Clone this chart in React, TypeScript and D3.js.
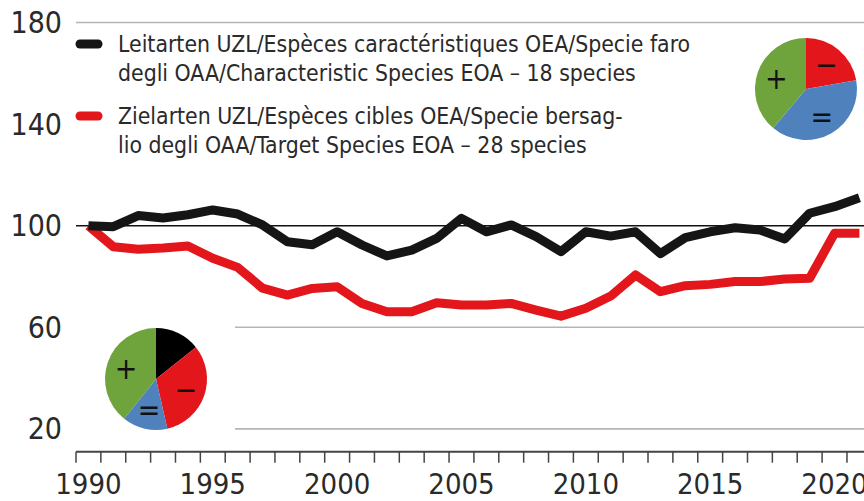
import React from "react";
import * as d3 from "d3";

const years = d3.range(1990, 2022);
const characteristic = [100, 99.6, 104, 103, 104.3, 106.2, 104.6, 100.3, 93.7, 92.5, 97.6, 92.4, 88.1, 90.4, 95, 102.9, 97.6, 100.3, 95.7, 89.8, 97.6, 95.9, 97.6, 89, 95.3, 97.6, 99.2, 98.3, 94.8, 104.9, 107.5, 111];
const target = [100, 91.7, 90.7, 91.2, 92, 87.2, 83.6, 75.4, 72.7, 75.3, 76, 69.4, 66.1, 66.1, 69.7, 68.8, 68.8, 69.4, 66.8, 64.4, 67.5, 72.3, 80.6, 74, 76.4, 76.9, 78, 78, 79, 79.3, 97, 97];
const yTicks = [180, 140, 100, 60, 20];
const xLabelYears = [1990, 1995, 2000, 2005, 2010, 2015, 2020];
const legendLines = [
  ["Leitarten UZL/Espèces caractéristiques OEA/Specie faro", "degli OAA/Characteristic Species EOA – 18 species"],
  ["Zielarten UZL/Espèces cibles OEA/Specie bersag-", "lio degli OAA/Target Species EOA – 28 species"],
];
const pieCharLabels = ["−", "=", "+"];
const pieCharValues = [4, 7, 7];
const pieTargetLabels = ["", "−", "=", "+"];
const pieTargetValues = [4, 9, 4, 11];

const W = 864, H = 501;
const FONT = "'DejaVu Sans Condensed', 'DejaVu Sans', sans-serif";
const BLACK = "#151515";
const RED = "#e3161c";
const GREEN = "#6fa33b";
const BLUE = "#4f81bd";
const TEXT = "#2a2a2a";

function Pie({ cx, cy, r, values, labels, colors }: any) {
  const arcs = d3.pie<number>().sort(null)(values);
  const arc = d3.arc<any>().innerRadius(0).outerRadius(r);
  const labelArc = d3.arc<any>().innerRadius(r * 0.62).outerRadius(r * 0.62);
  return (
    <g transform={`translate(${cx},${cy})`}>
      {arcs.map((a, i) => (
        <path key={i} d={arc(a) as string} fill={colors[i]} />
      ))}
      {arcs.map((a, i) => {
        const [lx, ly] = labelArc.centroid(a);
        return labels[i] ? (
          <text key={"t" + i} x={lx} y={ly} textAnchor="middle" dominantBaseline="central"
            fontFamily={FONT} fontSize={30} fill="#111">{labels[i]}</text>
        ) : null;
      })}
    </g>
  );
}

export default function App() {
  const x = d3.scaleBand<number>().domain(years).range([76, 76 + 32 * 24.87]).padding(0);
  const xc = (yr: number) => (x(yr) as number) + x.bandwidth() / 2;
  const y = d3.scaleLinear().domain([20, 180]).range([428.9, 22.5]);
  const line = d3.line<number>().x((_, i) => xc(years[i])).y((v) => y(v)).curve(d3.curveLinear);
  const axisY = 451.7;
  const ticks = d3.range(0, years.length + 1).map((k) => 76 + k * x.bandwidth());

  return (
    <svg width={W} height={H} style={{ position: "absolute", left: 0, top: 0, background: "#fff" }}>
      <rect x={0} y={0} width={W} height={H} fill="#fff" />
      {yTicks.filter((v) => v !== 100).map((v) => (
        <line key={v} x1={76} x2={W} y1={y(v)} y2={y(v)} stroke="#b5b5b5" strokeWidth={1.6} />
      ))}
      {/* legend background */}
      <rect x={70} y={32} width={W - 70} height={130} fill="#fff" />
      {/* lower-left pie background */}
      <rect x={70} y={300} width={165} height={140} fill="#fff" />
      <line x1={76} x2={W} y1={y(100)} y2={y(100)} stroke="#111" strokeWidth={1.6} />
      {yTicks.map((v) => (
        <text key={v} x={62} y={y(v)} textAnchor="end" dominantBaseline="central"
          fontFamily={FONT} fontSize={30} fill={TEXT}>{v}</text>
      ))}
      {/* x axis */}
      <line x1={76} x2={W} y1={axisY} y2={axisY} stroke="#444" strokeWidth={2} />
      {ticks.map((t, i) => (
        <line key={i} x1={t} x2={t} y1={axisY} y2={axisY + 11} stroke="#444" strokeWidth={1.5} />
      ))}
      {xLabelYears.map((yr) => (
        <text key={yr} x={xc(yr)} y={494} textAnchor="middle" fontFamily={FONT} fontSize={29} fill={TEXT}>{yr}</text>
      ))}
      {/* lines */}
      <path d={line(target) as string} fill="none" stroke={RED} strokeWidth={9} strokeLinejoin="round" />
      <path d={line(characteristic) as string} fill="none" stroke={BLACK} strokeWidth={9} strokeLinejoin="round" />
      {/* legend */}
      {[BLACK, RED].map((c, i) => (
        <g key={i}>
          <line x1={80} x2={98} y1={44 + i * 72} y2={44 + i * 72} stroke={c} strokeWidth={9} strokeLinecap="round" />
          {legendLines[i].map((t, j) => (
            <text key={j} x={118} y={52 + i * 72 + j * 29} fontFamily={FONT} fontSize={22.8} fill={TEXT}>{t}</text>
          ))}
        </g>
      ))}
      <Pie cx={806} cy={89} r={51} values={pieCharValues} labels={pieCharLabels} colors={[RED, BLUE, GREEN]} />
      <Pie cx={156} cy={379} r={51} values={pieTargetValues} labels={pieTargetLabels} colors={["#000", RED, BLUE, GREEN]} />
    </svg>
  );
}
